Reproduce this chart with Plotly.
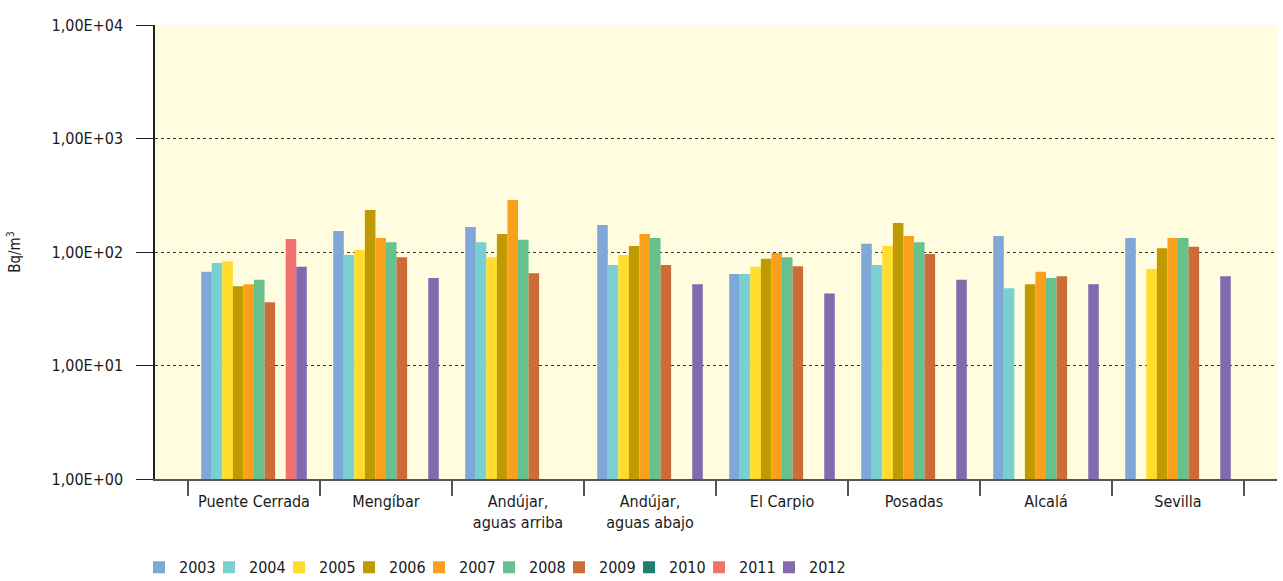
import plotly.graph_objects as go

# estaciones de muestreo
estaciones = ["Puente Cerrada", "Mengíbar", "Andújar,<br>aguas arriba", "Andújar,<br>aguas abajo",
              "El Carpio", "Posadas", "Alcalá", "Sevilla"]

# Bq/m3 por año (None = sin dato)
v2003 = [67, 153, 166, 173, 64, 118, 138, 133]
v2004 = [80, 94, 122, 77, 64, 77, 48, None]
v2005 = [83, 104, 90, 94, 74, 113, None, 71]
v2006 = [50, 234, 144, 113, 87, 180, 52, 108]
v2007 = [52, 133, 287, 144, 98, 138, 67, 133]
v2008 = [57, 122, 128, 133, 90, 122, 59, 133]
v2009 = [36, 90, 65, 77, 75, 96, 61, 111]
v2010 = [None, None, None, None, None, None, None, None]
v2011 = [130, None, None, None, None, None, None, None]
v2012 = [74, 59, None, 52, 43, 57, 52, 61]

anios = ["2003", "2004", "2005", "2006", "2007", "2008", "2009", "2010", "2011", "2012"]
series = [v2003, v2004, v2005, v2006, v2007, v2008, v2009, v2010, v2011, v2012]
colores = ["#7FA7D8", "#7ACFD0", "#FFDC2E", "#BF9A00", "#F9A01C",
           "#67C18E", "#CC6C38", "#1C806C", "#F2716C", "#836AAE"]

y_ticks = [1, 10, 100, 1000, 10000]
y_labels = ["1,00E+00", "1,00E+01", "1,00E+02", "1,00E+03", "1,00E+04"]

FONT = "DejaVu Sans Condensed, Liberation Sans Narrow, sans-serif"

fig = go.Figure()
leyendas = {}
for i, (anio, vals, col) in enumerate(zip(anios, series, colores)):
    # una leyenda por año, así quedan a paso fijo sin recortar el texto
    clave = "legend" if i == 0 else "legend%d" % (i + 1)
    fig.add_trace(go.Bar(x=estaciones, y=vals, name=anio, legend=clave,
                         marker=dict(color=col, line=dict(width=0))))
    leyendas[clave] = dict(orientation="h", x=(153 + 70 * i - 14 - 155) / 1122, xanchor="left",
                           y=-0.157, yanchor="top", font=dict(size=16),
                           bgcolor="rgba(0,0,0,0)")

fig.update_layout(
    width=1283, height=581,
    barmode="group", bargap=0.2, bargroupgap=0,
    plot_bgcolor="#FFFCE0", paper_bgcolor="white",
    font=dict(family=FONT, size=16, color="#1a1a1a"),
    margin=dict(l=155, r=6, t=25, b=102, autoexpand=False),
    showlegend=True,
    **leyendas,
)

fig.update_xaxes(
    type="category", range=[-0.75, 7.75], automargin=False,
    tickson="boundaries", ticks="outside", ticklen=15, tickcolor="#555555", tickwidth=2,
    ticklabelstandoff=7,
    showline=True, linecolor="#555555", linewidth=2,
    showgrid=False, tickfont=dict(size=16),
)

fig.update_yaxes(
    type="log", range=[0, 4], automargin=False,
    tickvals=y_ticks, ticktext=y_labels,
    ticks="outside", ticklen=17, tickcolor="#222222", tickwidth=1,
    ticklabelstandoff=10,
    showline=True, linecolor="#222222", linewidth=1.5,
    showgrid=True, gridcolor="#333333", griddash="dot", gridwidth=1,
    title=dict(text="Bq/m<sup>3</sup>", font=dict(size=15), standoff=27),
    tickfont=dict(size=16),
)

# la página no debe desplazar el gráfico
fig.write_html("out.html", config={"displayModeBar": False},
               post_script="document.body.style.margin='0';")
